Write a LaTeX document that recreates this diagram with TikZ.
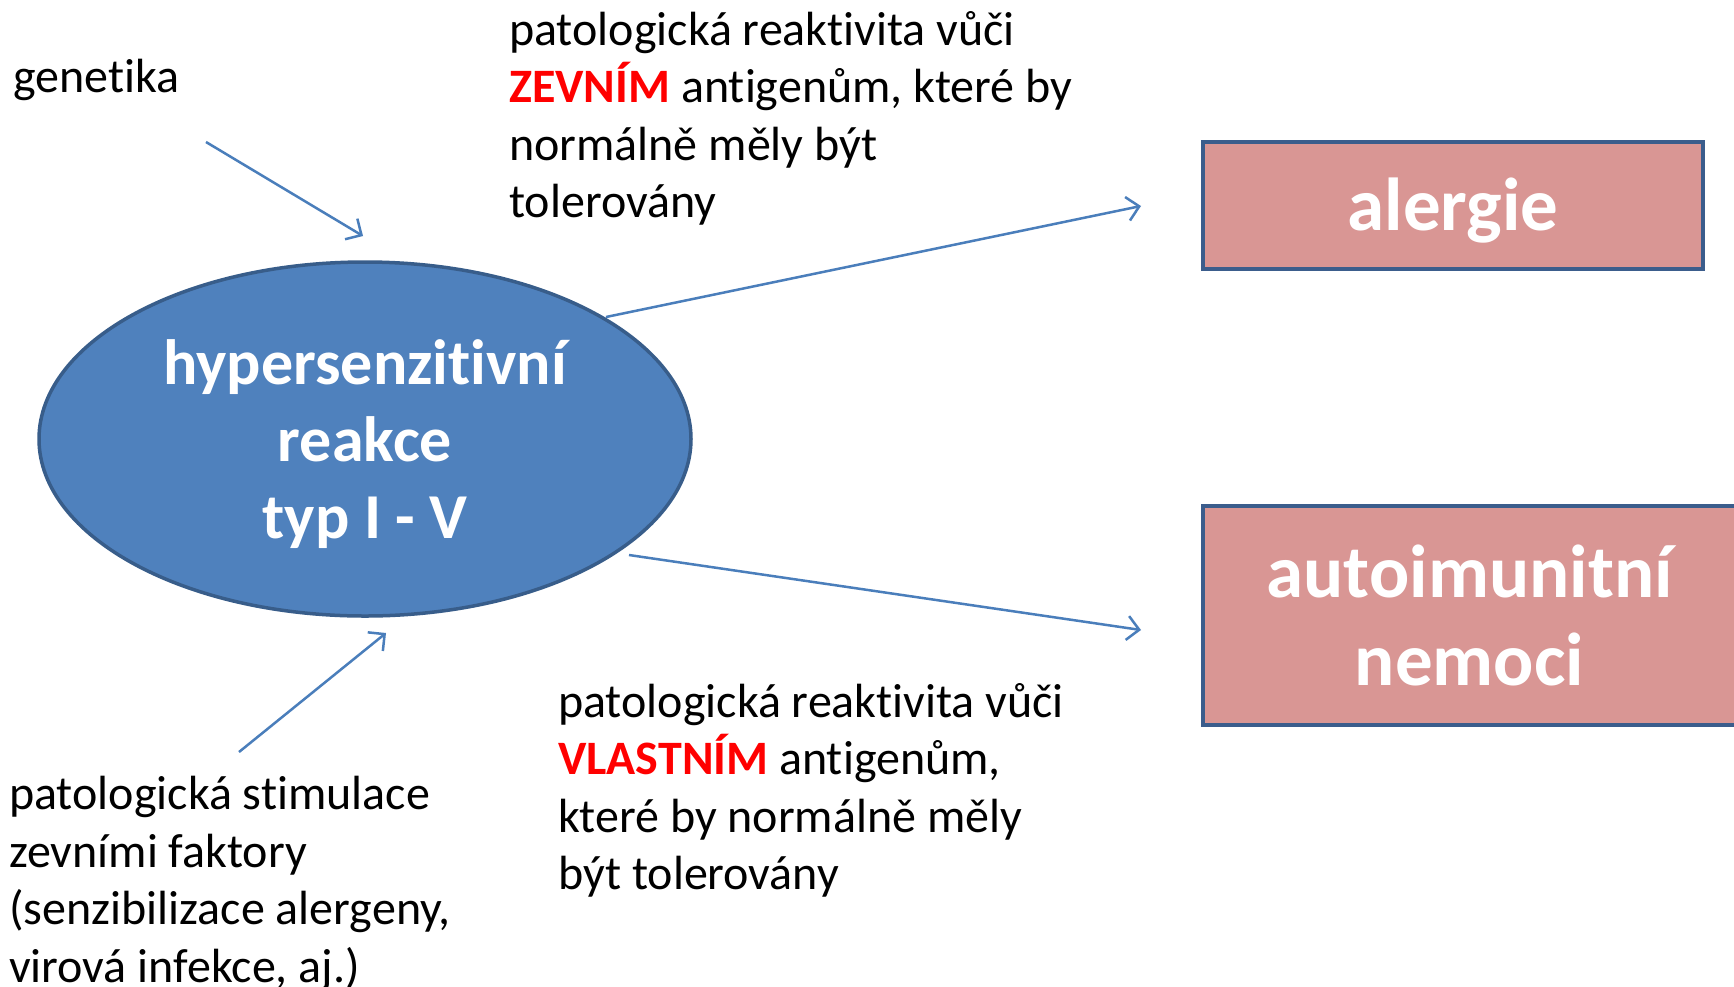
\documentclass[tikz,border=0pt]{standalone}
\usepackage{fontspec}
\setmainfont[Ligatures=NoCommon]{Carlito}
\usetikzlibrary{arrows.meta,shapes.geometric}
\definecolor{ellfill}{HTML}{4F81BD}
\definecolor{ellline}{HTML}{385D8A}
\definecolor{boxfill}{HTML}{D99694}
\definecolor{boxline}{HTML}{3B5D8C}
\definecolor{arr}{HTML}{4A7EBB}
\definecolor{redtxt}{HTML}{FF0000}
\tikzset{
  body/.style={font=\fontsize{48}{57.5}\selectfont, align=left, anchor=base west, inner sep=0pt},
  conn/.style={draw=arr, line width=2.5pt, -{Straight Barb[length=12pt,width=24pt,line width=2.5pt]}},
  pinkbox/.style={rectangle, draw=boxline, fill=boxfill, line width=4.5pt, text=white, font=\bfseries, align=center, inner sep=0pt},
}
\begin{document}
\begin{tikzpicture}[x=1pt,y=-1pt]
\useasboundingbox (0,0) rectangle (1734,986);
\clip (0,0) rectangle (1734,986);
\fill[white] (0,0) rectangle (1734,986);

\node[ellipse, draw=ellline, fill=ellfill, line width=3.5pt, minimum width=652pt, minimum height=354pt, inner sep=0pt] (ell) at (365,439) {};
\node[text=white, font=\fontsize{64}{77}\selectfont\bfseries, align=center, inner sep=0pt] (elltxt) at ([yshift=-5pt]ell.center)
  {hypersenzitivní\\reakce\\typ I - V};

\node[pinkbox, minimum width=500pt, minimum height=127pt] (aler) at (1453,205.5) {};
\node[text=white, font=\fontsize{75}{88}\selectfont\bfseries, inner sep=0pt] (alertxt) at ([yshift=-5pt]aler.center) {alergie};
\node[pinkbox, minimum width=533pt, minimum height=219pt, font=\fontsize{75}{88}\selectfont\bfseries] (auto) at (1469.5,615.5) {autoimunitní\\nemoci};

\node[body] (gen) at (13,92) {genetika};
\node[body] (top) at (509,217.5) {patologická reaktivita vůči\\{\bfseries\color{redtxt}ZEVNÍM} antigenům, které by\\normálně měly být\\tolerovány};
\node[body] (mid) at (558,889.5) {patologická reaktivita vůči\\{\bfseries\color{redtxt}VLASTNÍM} antigenům,\\které by normálně měly\\být tolerovány};
\node[body] (bl) at (9,982) {patologická stimulace\\zevními faktory\\(senzibilizace alergeny,\\virová infekce, aj.)};

\coordinate (g1) at (206,142);
\coordinate (g2) at (363,236);
\coordinate (b1) at (239,752);
\coordinate (b2) at (386,633);
\coordinate (t1) at (606,317);
\coordinate (t2) at (1141,206);
\coordinate (m1) at (629,555);
\coordinate (m2) at (1141,630);

\draw[conn] (g1) -- (g2);
\draw[conn] (b1) -- (b2);
\draw[conn] (t1) -- (t2);
\draw[conn] (m1) -- (m2);
\end{tikzpicture}
\end{document}
